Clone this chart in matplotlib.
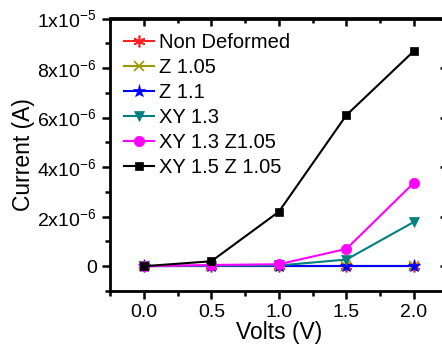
import matplotlib
matplotlib.use("Agg")
import matplotlib.pyplot as plt
from matplotlib.ticker import MultipleLocator, FixedLocator, FixedFormatter, NullFormatter

plt.rcParams['font.family'] = ['Liberation Sans', 'DejaVu Sans']
plt.rcParams['mathtext.fontset'] = 'custom'
plt.rcParams['mathtext.rm'] = 'Liberation Sans'
plt.rcParams['mathtext.it'] = 'Liberation Sans'
plt.rcParams['mathtext.default'] = 'regular'

volts = [0.0, 0.5, 1.0, 1.5, 2.0]
non_deformed = [0, 0, 0, 0, 0]
z_105 = [0, 0, 0, 0, 0]
z_11 = [0, 0, 0, 0, 0]
xy_13 = [0, 0.02e-6, 0.03e-6, 0.27e-6, 1.79e-6]
xy_13_z105 = [0, 0.05e-6, 0.08e-6, 0.70e-6, 3.37e-6]
xy_15_z105 = [0, 0.2e-6, 2.2e-6, 6.1e-6, 8.69e-6]

series = [
    ("Non Deformed", non_deformed, '#ff2020', (6, 2, 0), 8.5),
    ("Z 1.05", z_105, '#999900', 'x', 7.5),
    ("Z 1.1", z_11, '#0000ff', '*', 9.5),
    ("XY 1.3", xy_13, '#008080', 'v', 7.5),
    ("XY 1.3 Z1.05", xy_13_z105, '#ff00ff', 'o', 7.5),
    ("XY 1.5 Z 1.05", xy_15_z105, '#000000', 's', 6),
]

ytick_vals = [0, 2e-6, 4e-6, 6e-6, 8e-6, 1e-5]
ytick_labels = ['0', r'2x10$^{-6}$', r'4x10$^{-6}$', r'6x10$^{-6}$', r'8x10$^{-6}$', r'1x10$^{-5}$']
xtick_vals = [0.0, 0.5, 1.0, 1.5, 2.0]
xtick_labels = ['0.0', '0.5', '1.0', '1.5', '2.0']

fig = plt.figure(figsize=(4.42, 3.51), dpi=100)
ax = fig.add_axes([110/442, 1 - 291/351, (447.75 - 110)/442, (291 - 18.5)/351])

for name, vals, color, marker, ms in series:
    ax.plot(volts, vals, color=color, marker=marker, markersize=ms, linewidth=1.5,
            markeredgewidth=1.2 if marker in ('x', (6, 2, 0)) else 0.5,
            markeredgecolor=color, label=name)

ax.set_xlim(-0.25, 2.25)
ax.set_ylim(-1e-6, 1e-5)
ax.xaxis.set_major_locator(FixedLocator(xtick_vals))
ax.xaxis.set_major_formatter(FixedFormatter(xtick_labels))
ax.xaxis.set_minor_locator(MultipleLocator(0.25))
ax.yaxis.set_major_locator(FixedLocator(ytick_vals))
ax.yaxis.set_major_formatter(FixedFormatter(ytick_labels))
ax.yaxis.set_minor_locator(MultipleLocator(1e-6))

for s in ax.spines.values():
    s.set_linewidth(2)

ax.tick_params(which='both', direction='out', labelsize=14, width=1.8)
ax.tick_params(which='major', length=6)
ax.tick_params(which='minor', length=3.5)

# mirrored ticks on top/right point inward
secx = ax.secondary_xaxis('top')
secx.xaxis.set_major_locator(FixedLocator(xtick_vals))
secx.xaxis.set_minor_locator(MultipleLocator(0.25))
secx.xaxis.set_major_formatter(NullFormatter())
secx.tick_params(which='both', direction='in', width=1.8)
secx.tick_params(which='major', length=6)
secx.tick_params(which='minor', length=3.5)
secx.spines['top'].set_linewidth(2)

secy = ax.secondary_yaxis('right')
secy.yaxis.set_major_locator(FixedLocator(ytick_vals))
secy.yaxis.set_minor_locator(MultipleLocator(1e-6))
secy.yaxis.set_major_formatter(NullFormatter())
secy.tick_params(which='both', direction='in', width=1.8)
secy.tick_params(which='major', length=6)
secy.tick_params(which='minor', length=3.5)
secy.spines['right'].set_linewidth(2)

ax.set_xlabel('Volts (V)', fontsize=16.5, labelpad=0)
ax.set_ylabel('Current (A)', fontsize=16.5, labelpad=2)

leg = ax.legend(loc='upper left', bbox_to_anchor=(0.0, 1.0), frameon=False, fontsize=14.5,
                handlelength=1.5, handletextpad=0.25, labelspacing=0.3, borderaxespad=0.3)

fig.savefig('out.png', dpi=100)
